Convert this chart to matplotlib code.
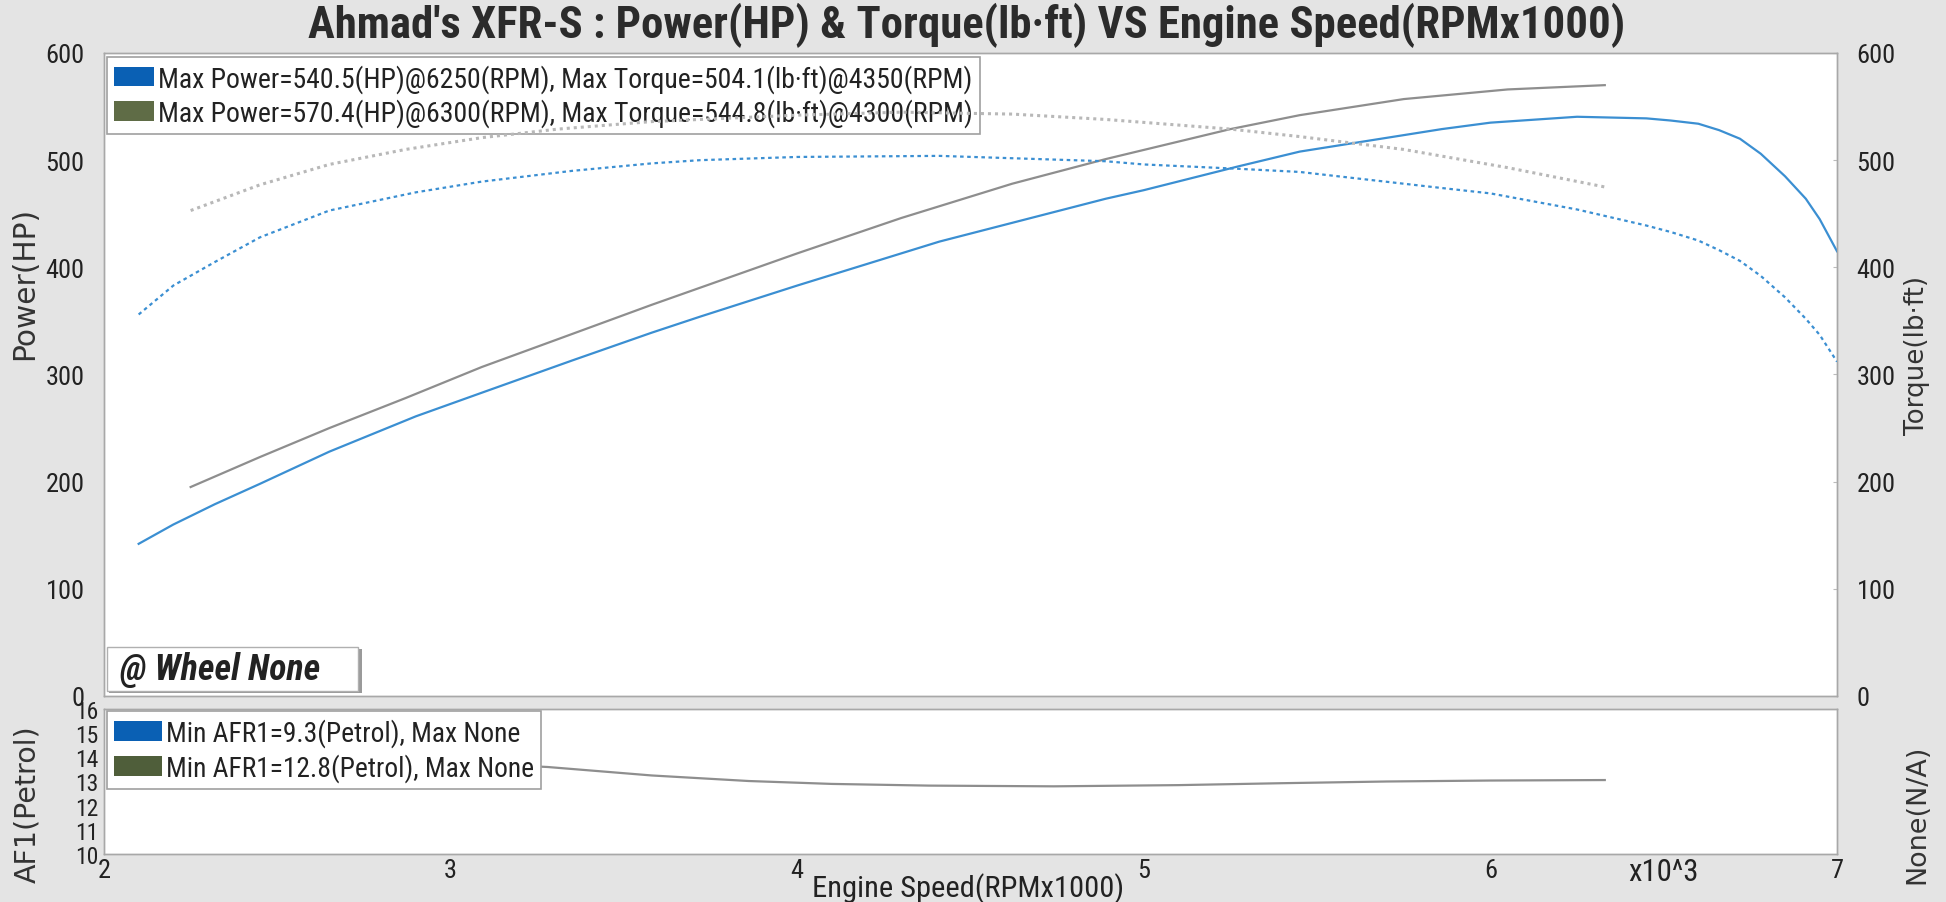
import matplotlib
matplotlib.use("Agg")
import matplotlib.pyplot as plt
from matplotlib import font_manager
from matplotlib.patches import Patch, Rectangle

# ---------------- data ----------------
rpm_run1 = [2.10, 2.20, 2.32, 2.45, 2.65, 2.90, 3.09, 3.35, 3.58, 3.72, 4.00, 4.41,
            4.89, 5.00, 5.27, 5.45, 5.86, 6.00, 6.25, 6.45, 6.52, 6.60, 6.66,
            6.72, 6.78, 6.85, 6.91, 6.95, 7.00]
power_run1 = [142, 160, 179, 198, 228, 261, 283, 313, 339, 354, 383, 424,
              464, 472, 494, 508, 529, 535, 540.5, 539, 537, 534, 528,
              520, 506, 485, 464, 445, 415]
torque_run1 = [356, 383, 405, 428, 453, 470, 480, 490, 497, 500, 503, 504,
               499, 496, 492, 489, 474, 469, 454, 439, 433, 425, 416,
               406, 392, 372, 352, 337, 312]

rpm_run2 = [2.25, 2.45, 2.65, 2.87, 3.09, 3.31, 3.58, 4.00, 4.30, 4.62, 4.89,
            5.25, 5.45, 5.75, 6.05, 6.33]
power_run2 = [195, 223, 250, 278, 307, 333, 365, 413, 446, 478, 501,
              529, 542, 557, 566, 570]
torque_run2 = [453, 477, 496, 510, 521, 529, 536, 542, 544.8, 543, 538,
               529, 522, 510, 493, 475]

rpm_afr2 = [2.25, 2.70, 3.28, 3.58, 3.86, 4.10, 4.38, 4.74, 5.10, 5.40, 5.70, 6.00, 6.33]
afr_run2 = [14.4, 14.0, 13.6, 13.25, 13.02, 12.9, 12.83, 12.8, 12.85, 12.93, 13.0, 13.04, 13.06]

legend_main = ["Max Power=540.5(HP)@6250(RPM), Max Torque=504.1(lb·ft)@4350(RPM)",
               "Max Power=570.4(HP)@6300(RPM), Max Torque=544.8(lb·ft)@4300(RPM)"]
legend_afr = ["Min AFR1=9.3(Petrol), Max None",
              "Min AFR1=12.8(Petrol), Max None"]
title_text = "Ahmad's XFR-S : Power(HP) & Torque(lb·ft) VS Engine Speed(RPMx1000)"
power_ticks = [0, 100, 200, 300, 400, 500, 600]
afr_ticks = [10, 11, 12, 13, 14, 15, 16]
rpm_ticks = [2, 3, 4, 5, 6, 7]

# ---------------- fonts ----------------
names = {f.name for f in font_manager.fontManager.ttflist}


def pick(*cands):
    for c in cands:
        if c in names:
            return c
    return "DejaVu Sans"


NARROW = pick("Liberation Sans Narrow", "DejaVu Sans Condensed", "Roboto Condensed", "DejaVu Sans")
WIDE = pick("DejaVu Sans")

W, H = 1946, 903
fig = plt.figure(figsize=(W / 100, H / 100), dpi=100)
fig.patch.set_facecolor("#e4e4e4")
renderer = fig.canvas.get_renderer()


def fit(s, target, **kw):
    t = fig.text(0, 0, s, fontsize=10, **kw)
    w = t.get_window_extent(renderer).width
    t.remove()
    return 10.0 * target / w


def fx(px):
    return px / W


def fy(py):
    return 1 - py / H


# axes positions (pixels)
L, R = 104, 1837
MT, MB = 54, 697
LT, LB = 710, 855

ax = fig.add_axes([fx(L), fy(MB), fx(R) - fx(L), fy(MT) - fy(MB)])
axr = ax.twinx()
axl = fig.add_axes([fx(L), fy(LB), fx(R) - fx(L), fy(LT) - fy(LB)])
axlr = axl.twinx()

blue = "#3b8fd2"
grey_solid = "#8e8e8e"
grey_dot = "#b8b8b8"

ax.plot(rpm_run1, power_run1, color=blue, lw=1.6, zorder=3)
axr.plot(rpm_run1, torque_run1, color=blue, lw=1.6, linestyle=(0, (1.6, 1.6)), zorder=3)
ax.plot(rpm_run2, power_run2, color=grey_solid, lw=1.6, zorder=2)
axr.plot(rpm_run2, torque_run2, color=grey_dot, lw=2.2, linestyle=(0, (1.0, 1.3)), zorder=2)
axl.plot(rpm_afr2, afr_run2, color=grey_solid, lw=1.6)

TS = 19
tick_font = dict(family=NARROW, fontsize=TS, color="#222222")
for a in (ax, axr):
    a.set_xlim(2, 7)
    a.set_ylim(0, 600)
    a.set_yticks(power_ticks, labels=[str(v) for v in power_ticks], **tick_font)
ax.set_xticks(rpm_ticks)
ax.tick_params(axis="x", bottom=False, labelbottom=False)
ax.tick_params(axis="y", length=0, pad=14)
axr.tick_params(axis="y", length=3, direction="in", color="#bbbbbb", pad=14)

axl.set_xlim(2, 7)
axl.set_ylim(10, 16)
axl.set_yticks(afr_ticks, labels=[str(v) for v in afr_ticks], fontsize=17,
               family=NARROW, color="#222222")
axl.set_xticks(rpm_ticks, labels=[str(v) for v in rpm_ticks], **tick_font)
axl.tick_params(axis="y", length=0, pad=4)
axl.tick_params(axis="x", length=0, pad=3)
axlr.set_yticks([])
axlr.set_ylim(10, 16)

for a in (ax, axr, axl, axlr):
    for sp in a.spines.values():
        sp.set_color("#a8a8a8")
        sp.set_linewidth(1.0)
ax.set_facecolor("white")
axl.set_facecolor("white")

# legends
leg_size = fit(legend_main[0], 815, family=NARROW)
leg = ax.legend(handles=[Patch(facecolor="#0a60b4"), Patch(facecolor="#5f6c46")],
                labels=legend_main, loc="upper left", bbox_to_anchor=(0.0017, 0.994),
                borderaxespad=0, prop={"family": NARROW, "size": leg_size},
                frameon=True, fancybox=False, edgecolor="#a0a0a0", framealpha=1,
                handlelength=1.45, handleheight=0.7, handletextpad=0.15,
                borderpad=0.25, labelspacing=0.2)
leg.get_frame().set_linewidth(1.2)
for t in leg.get_texts():
    t.set_color("#222222")

afr_size = fit(legend_afr[1], 368, family=NARROW)
leg2 = axl.legend(handles=[Patch(facecolor="#0a60b4"), Patch(facecolor="#4f5e3a")],
                  labels=legend_afr, loc="upper left", bbox_to_anchor=(0.0017, 0.986),
                  borderaxespad=0, prop={"family": NARROW, "size": afr_size},
                  frameon=True, fancybox=False, edgecolor="#a0a0a0", framealpha=1,
                  handlelength=1.75, handleheight=0.75, handletextpad=0.15,
                  borderpad=0.25, labelspacing=0.25)
leg2.get_frame().set_linewidth(1.2)
for t in leg2.get_texts():
    t.set_color("#222222")

# title
title_size = fit(title_text, 1318, family=NARROW, weight="bold")
fig.text(fx(967), fy(25), title_text, ha="center", va="center", family=NARROW,
         weight="bold", fontsize=title_size, color="#2b2b2b")

# axis labels
lab_kw = dict(family=WIDE, color="#333333", va="center", ha="center", rotation=90)
fig.text(fx(25), fy(283), "Power(HP)", fontsize=fit("Power(HP)", 153, family=WIDE), **lab_kw)
fig.text(fx(1917), fy(355), "Torque(lb·ft)", fontsize=fit("Torque(lb·ft)", 159, family=WIDE), **lab_kw)
fig.text(fx(27), fy(804), "AF1(Petrol)", fontsize=fit("AF1(Petrol)", 158, family=WIDE), **lab_kw)
fig.text(fx(1917), fy(814), "None(N/A)", fontsize=fit("None(N/A)", 139, family=WIDE), **lab_kw)
fig.text(fx(968), fy(889), "Engine Speed(RPMx1000)", family=NARROW, color="#222222",
         fontsize=fit("Engine Speed(RPMx1000)", 310, family=NARROW), ha="center", va="center")
fig.text(fx(1663), fy(873), "x10^3", family=NARROW, color="#222222",
         fontsize=fit("x10^3", 70, family=NARROW), ha="center", va="center")

# "@ Wheel None" box
fig.patches.append(Rectangle((fx(109), fy(694)), fx(253), 44 / H, transform=fig.transFigure,
                             facecolor="#9a9a9a", edgecolor="none", zorder=4))
fig.patches.append(Rectangle((fx(107), fy(692)), fx(251), 44 / H, transform=fig.transFigure,
                             facecolor="white", edgecolor="#b0b0b0", lw=1.0, zorder=5))
fig.text(fx(120), fy(670), "@ Wheel None", family=NARROW, weight="bold", style="italic",
         fontsize=fit("@ Wheel None", 200, family=NARROW, weight="bold", style="italic"),
         color="#222222", ha="left", va="center", zorder=6)

fig.savefig("out.png", dpi=100, facecolor=fig.get_facecolor())
